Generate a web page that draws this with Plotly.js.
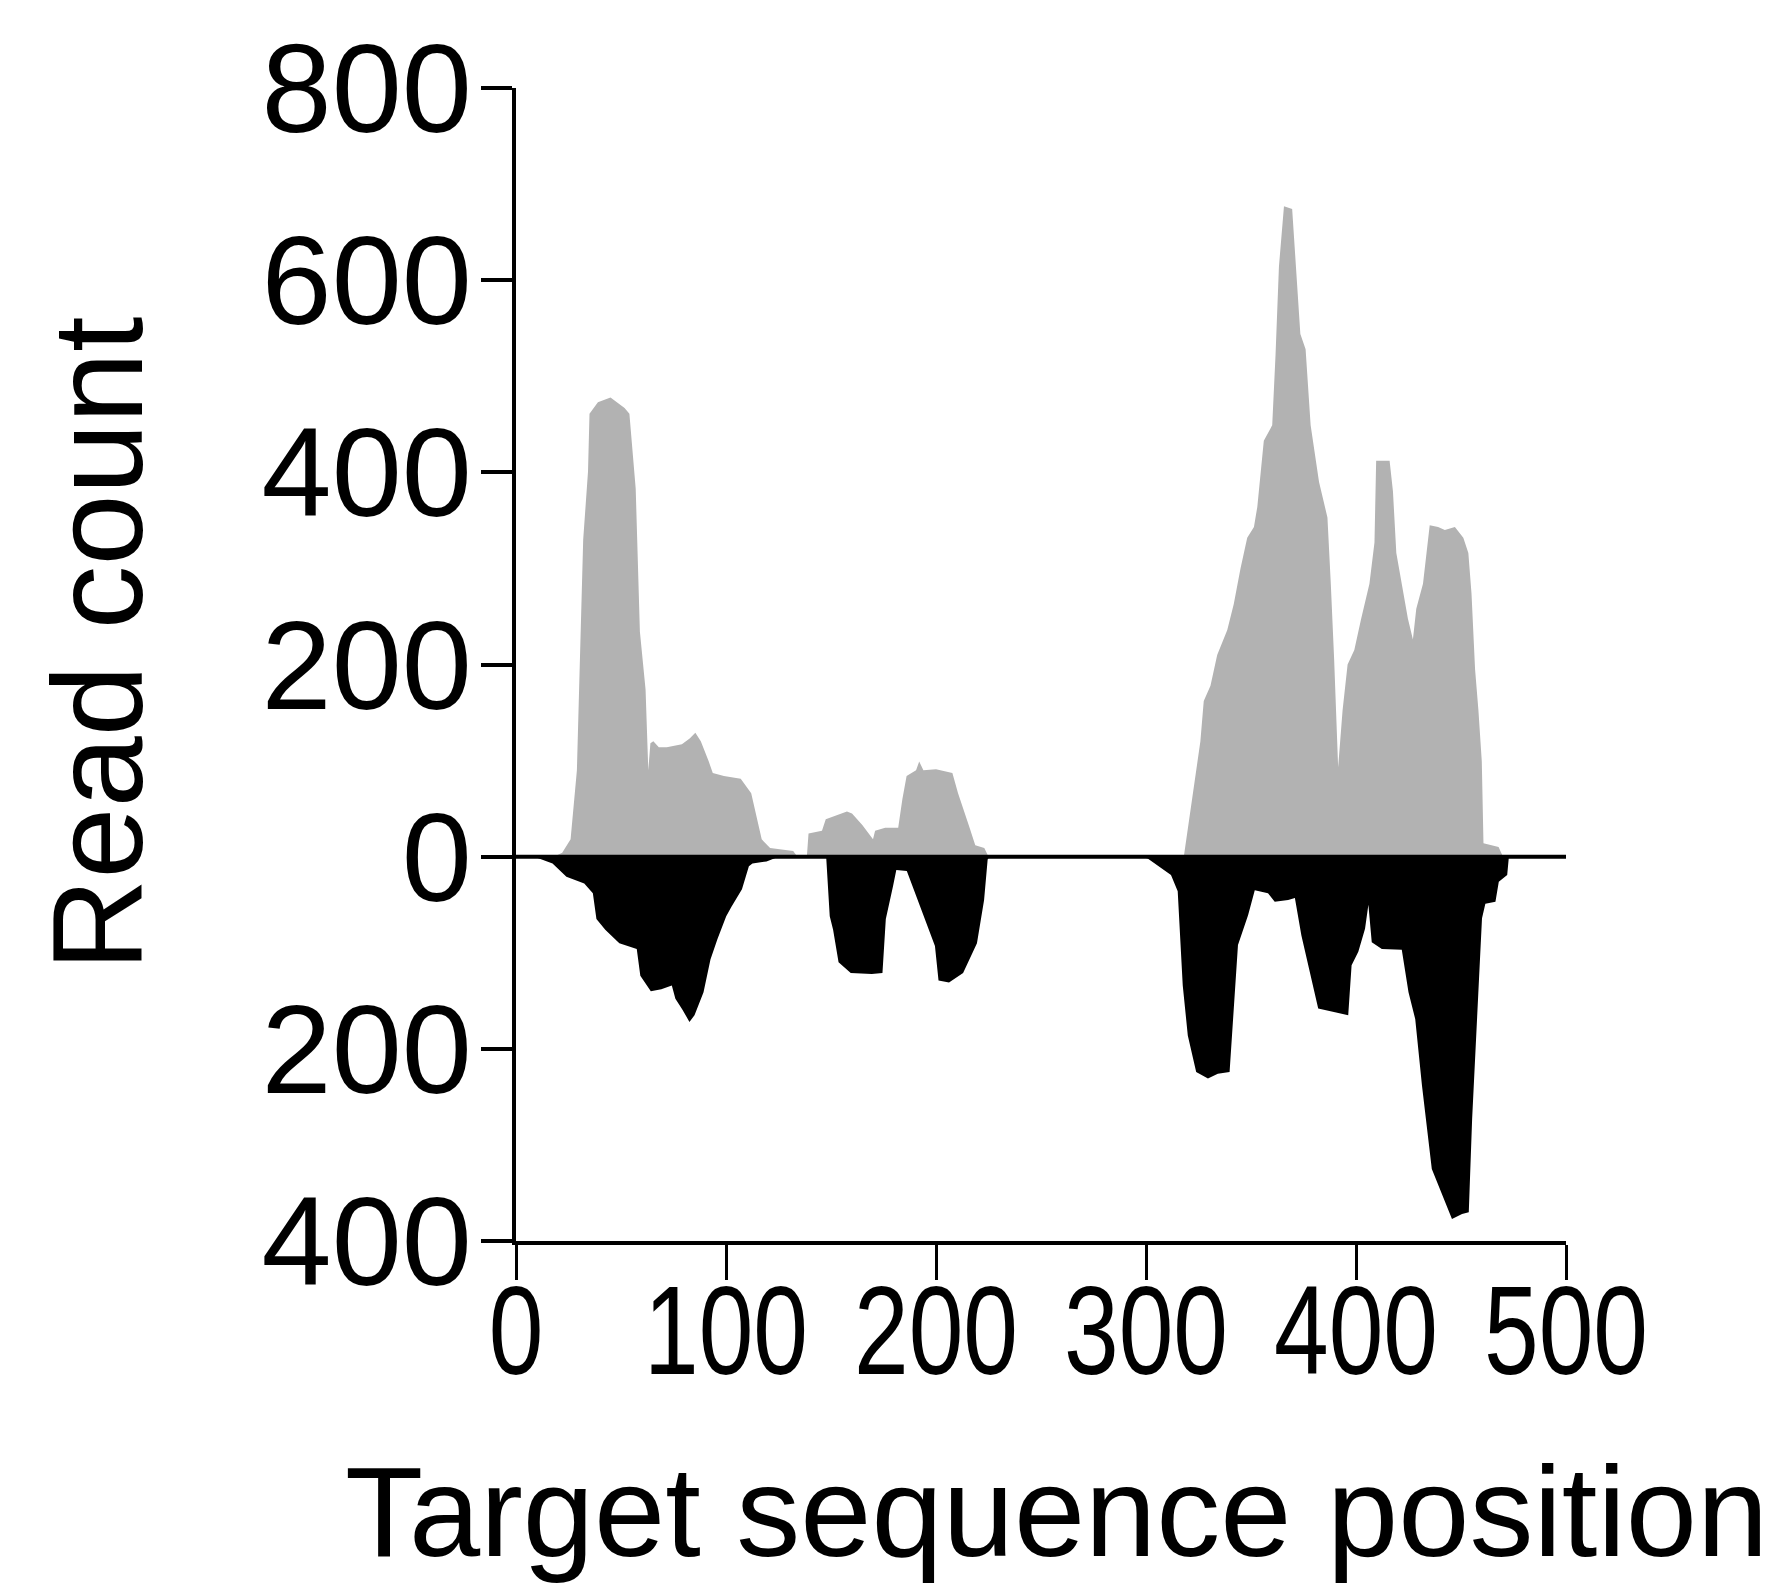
<!DOCTYPE html>
<html>
<head>
<meta charset="utf-8">
<script src="https://cdn.plot.ly/plotly-3.0.1.min.js"></script>
<style>html,body{margin:0;padding:0;background:#fff;}#chart{width:1779px;height:1593px;}</style>
</head>
<body>
<div id="chart"></div>
<script>
// Positive-strand read counts (grey), position vs count
const posX = [0,18,22,26,29,30.7,32,34.3,35,39,45,51.7,54,57,59,61.7,63,64,65.4,68,71.8,79,82.7,85.4,88,91.8,93.7,99,107,112,117,121,132,134,138.5,139.3,145.7,147.5,157.6,160,164.9,170,171,175.8,182,184,186,190.5,192,194,200,207.8,210.5,216,218.7,223,225,318,321,325.9,327.5,330.7,333.9,338.7,341.8,345,348.2,351.4,353,356.1,360.1,361.7,363.3,365.7,369.6,371.3,373.5,376,378.4,382.4,386.4,388,389.6,391.5,393.6,396,399.2,402.4,406.4,408.8,409.6,416,417.6,419.2,422.3,424.7,427.1,428.7,431.9,434.3,435.1,439.1,442.3,447.1,451.1,453.5,455,456.7,458.3,459.9,460.7,467.9,470,500];
const posY = [0,0,4,18,90,234,330,401,461,473,478,467,461,383,234,174,90,118,120,114,114,117,123,129,120,99,87,84,81,66,18,9,6,0,0,24,27,39,47,45,33,18,27,30,30,60,84,90,99,90,91,87,66,30,12,9,0,0,46,120,162,178,210,236,263,300,332,343,364,433,449,523,614,677,674,614,544,528,449,390,353,284,205,93,152,200,215,247,284,327,412,412,380,316,279,248,226,258,284,332,345,343,340,343,332,316,274,195,152,99,14,10,0,0];

// Negative-strand read counts (black), drawn below zero
const negX = [0,10,17.4,24,32.5,36.6,38.3,42.5,49.2,57.5,59.2,64.2,69.2,74.2,75.9,79.2,82.6,85,89.3,92.6,95.9,100.1,102.6,107.6,110.9,112.6,119.3,122.6,125,147.7,149.4,151,153.6,159.4,169.4,174.5,176.1,179.5,181.1,186.1,192.8,199.5,201.2,206.2,212.9,219.5,222.9,224.6,225.4,298,300.8,305.6,311.9,315.1,317.5,319.9,323.9,329.5,334.2,339.8,341.4,343.8,348.6,351.8,358.1,361.3,367.7,370.9,374,378.8,382,390,396.3,397.9,401.1,404.3,405.9,407.5,412.3,421.8,425,428.2,431.4,436.1,440.9,445.7,450.5,453.7,455.3,457.6,460,461.6,466.4,468,472,472.8,500];
const negY = [0,-1,-7,-21,-28,-38,-65,-76,-90,-96,-124,-140,-138,-134,-148,-159,-172,-165,-141,-107,-86,-62,-52,-34,-10,-7,-5,-2,0,0,-62,-76,-110,-121,-122,-121,-65,-31,-14,-15,-55,-93,-129,-131,-121,-90,-45,-3,0,0,-2,-9,-19,-36,-134,-186,-224,-231,-226,-224,-169,-92,-61,-35,-38,-47,-45,-43,-82,-127,-158,-162,-165,-113,-99,-75,-50,-89,-96,-97,-141,-169,-238,-325,-350,-377,-372,-370,-273,-169,-64,-49,-47,-26,-19,0,0];

const yTickVals = [-400,-200,0,200,400,600,800];
const yTickText = ["400","200","0","200","400","600","800"];
const xTickVals = [0,100,200,300,400,500];
const xTickText = ["0","100","200","300","400","500"];
const xTitle = 'Target sequence position';
const yTitle = 'Read count';

const traces = [
  {x: posX, y: posY, type: 'scatter', mode: 'lines', fill: 'tozeroy',
   fillcolor: '#b2b2b2', line: {width: 0, color: '#b2b2b2'}, hoverinfo: 'x+y', showlegend: false},
  {x: negX, y: negY, type: 'scatter', mode: 'lines', fill: 'tozeroy',
   fillcolor: '#000000', line: {width: 0, color: '#000000'}, hoverinfo: 'x+y', showlegend: false}
];

const titleFont = {family: 'Liberation Sans, Arial, sans-serif', size: 128, color: '#000'};

const layout = {
  width: 1779, height: 1593,
  margin: {l: 516, r: 213, t: 88, b: 352, pad: 0},
  paper_bgcolor: '#ffffff', plot_bgcolor: '#ffffff',
  showlegend: false,
  xaxis: {
    range: [0, 500], tickvals: xTickVals, ticktext: xTickText, tickangle: 0,
    ticks: 'outside', ticklen: 35, tickwidth: 3, tickcolor: '#000',
    showline: true, linewidth: 4, linecolor: '#000',
    showgrid: false, zeroline: false,
    ticklabelstandoff: -57,
    tickfont: {family: 'Liberation Sans, Arial, sans-serif', size: 126, color: '#000'},
    fixedrange: true
  },
  yaxis: {
    range: [-400, 800], tickvals: yTickVals, ticktext: yTickText,
    ticks: 'outside', ticklen: 31, tickwidth: 4, tickcolor: '#000',
    showline: true, linewidth: 4, linecolor: '#000',
    showgrid: false, zeroline: false,
    ticklabelstandoff: -16,
    tickfont: {family: 'Liberation Sans, Arial, sans-serif', size: 126, color: '#000'},
    fixedrange: true
  },
  annotations: [
    {text: xTitle, xref: 'paper', yref: 'paper', x: 0.5152, y: -0.1709,
     xanchor: 'center', yanchor: 'top', showarrow: false, font: titleFont},
    {text: yTitle, xref: 'paper', yref: 'paper', x: -0.398, y: 0.5178, textangle: -90,
     xanchor: 'center', yanchor: 'middle', showarrow: false, font: titleFont}
  ],
  shapes: [
    {type: 'line', xref: 'paper', yref: 'y', x0: 0, x1: 1, y0: 0, y1: 0,
     line: {color: '#000', width: 4}, layer: 'above'}
  ]
};

Plotly.newPlot('chart', traces, layout, {displayModeBar: false, staticPlot: true}).then(function (gd) {
  // the reference sets the x tick numbers in a condensed face: narrow them horizontally about their anchor
  const s = 0.78;
  gd.querySelectorAll('.xtick text').forEach(function (t) {
    const x = parseFloat(t.getAttribute('x')) || 0;
    const prev = t.getAttribute('transform') || '';
    t.setAttribute('transform', prev + ' translate(' + (x * (1 - s)) + ',0) scale(' + s + ',1)');
  });
});
</script>
</body>
</html>
